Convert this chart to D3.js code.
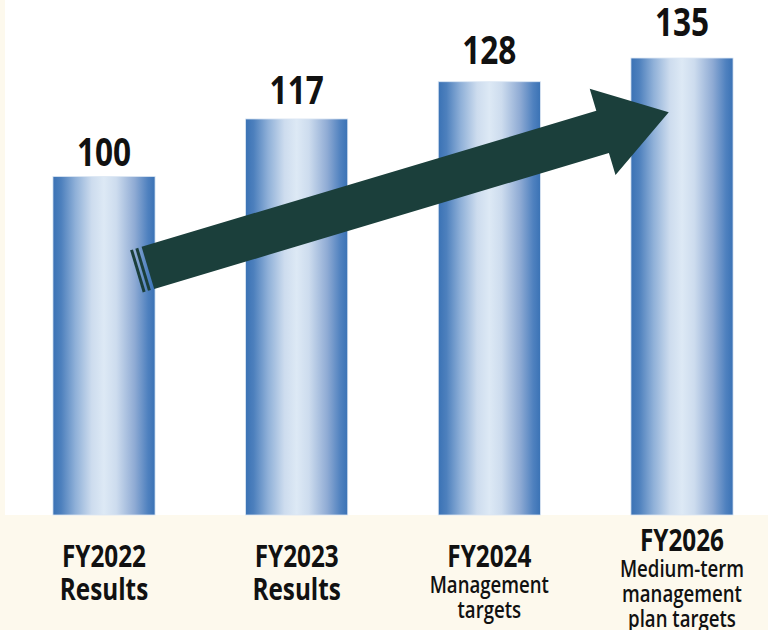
<!DOCTYPE html>
<html>
<head>
<meta charset="utf-8">
<script src="https://cdn.jsdelivr.net/npm/d3@7"></script>
<style>
  html, body { margin: 0; padding: 0; background: #ffffff; }
  svg { display: block; }
</style>
</head>
<body>
<svg id="chart"></svg>
<script>
// Index values (FY2022 = 100)
const categories = ["FY2022", "FY2023", "FY2024", "FY2026"];
const values = [100, 117, 128, 135];
const subLabels = [
    ["Results"],
    ["Results"],
    ["Management", "targets"],
    ["Medium-term", "management", "plan targets"]
];
// arrow runs from this level on the first bar to this level on the last bar
const arrowFrom = 73;
const arrowTo = 119;

const width = 768;
const height = 630;
const baseY = 515;
const FONT = "'Open Sans', sans-serif";
const SQUEEZE = 0.81; // the original type is a condensed face

const svg = d3.select("#chart")
    .attr("width", width)
    .attr("height", height)
    .attr("viewBox", [0, 0, width, height]);

// cream panel at the bottom and thin strip on the left
svg.append("rect")
    .attr("x", 0).attr("y", 0)
    .attr("width", width).attr("height", height)
    .attr("fill", "#ffffff");
svg.append("rect")
    .attr("x", 0).attr("y", baseY)
    .attr("width", width).attr("height", height - baseY)
    .attr("fill", "#fdf9ed");
svg.append("rect")
    .attr("x", 0).attr("y", 0)
    .attr("width", 5).attr("height", height)
    .attr("fill", "#fdf9ed");

// Scales
const x = d3.scaleBand()
    .domain(categories)
    .range([-1, 787])
    .paddingInner(0.47)
    .paddingOuter(0.28);

const y = d3.scaleLinear()
    .domain([0, 150])
    .range([baseY, baseY - 150 * 3.385]);

// Bar gradient (cylinder look)
const defs = svg.append("defs");
const grad = defs.append("linearGradient")
    .attr("id", "bar-grad")
    .attr("x1", "0%").attr("x2", "100%")
    .attr("y1", "0%").attr("y2", "0%");
[
    [0, "#3a72b5"], [0.08, "#4d80bd"], [0.22, "#8fb0d8"],
    [0.38, "#cddcee"], [0.5, "#dde9f5"], [0.62, "#cddcee"],
    [0.8, "#8fabd4"], [0.93, "#4f81bf"], [1, "#3a72b5"]
].forEach(([o, c]) => grad.append("stop").attr("offset", o).attr("stop-color", c));

// Bars
svg.append("g")
    .selectAll("rect")
    .data(values)
    .join("rect")
    .attr("x", (d, i) => x(categories[i]))
    .attr("y", d => y(d))
    .attr("width", x.bandwidth())
    .attr("height", d => y(0) - y(d))
    .attr("fill", "url(#bar-grad)")
    .attr("stroke", "#dbe6f3")
    .attr("stroke-width", 0.8);

// condensed text helper: centred at (cx, by) baseline
function squeezedText(g, cx, by, size, str, weight = "bold") {
    return g.append("text")
        .attr("transform", `translate(${cx},${by}) scale(${SQUEEZE},1)`)
        .attr("text-anchor", "middle")
        .attr("font-family", FONT)
        .attr("font-weight", weight)
        .attr("font-size", size)
        .attr("fill", "#111111")
        .text(str);
}

// Value labels
const valueG = svg.append("g");
values.forEach((v, i) => {
    squeezedText(valueG, x(categories[i]) + x.bandwidth() / 2, y(v) - 11 - 3.6 * i, 39, v);
});

// Arrow, placed from scale positions
const first = categories[0], last = categories[categories.length - 1];
const p0 = [x(first) + x.bandwidth() * 0.93, y(arrowFrom)];
const p1 = [x(last) + x.bandwidth() * 0.37, y(arrowTo)];
const len = Math.hypot(p1[0] - p0[0], p1[1] - p0[1]);
const ang = Math.atan2(p1[1] - p0[1], p1[0] - p0[0]) * 180 / Math.PI;
const shaftHalf = 22, headHalf = 45, headLen = 69;
const arrowColor = "#1b3f3b";

const arrow = svg.append("g")
    .attr("transform", `translate(${p0[0]},${p0[1]}) rotate(${ang})`);
arrow.append("path")
    .attr("d", d3.line()([
        [0, -shaftHalf], [len - headLen, -shaftHalf], [len - headLen, -headHalf],
        [len, 0], [len - headLen, headHalf], [len - headLen, shaftHalf], [0, shaftHalf]
    ]) + "Z")
    .attr("fill", arrowColor);
// the two thin stripes at the tail
[[-12, -9], [-6.5, -3.5]].forEach(([a, b]) => {
    arrow.append("rect")
        .attr("x", a).attr("y", -shaftHalf)
        .attr("width", b - a).attr("height", shaftHalf * 2)
        .attr("fill", arrowColor);
});

// Category labels
const labelG = svg.append("g");
categories.forEach((c, i) => {
    const cx = x(c) + x.bandwidth() / 2;
    const subs = subLabels[i];
    const big = subs.length === 1;
    const topY = subs.length === 3 ? 551 : 567;
    squeezedText(labelG, cx, topY, 30, c);
    subs.forEach((s, j) => {
        if (big) squeezedText(labelG, cx, topY + 33, 30, s);
        else squeezedText(labelG, cx, topY + 26 + j * 25, 23, s, 600);
    });
});
</script>
</body>
</html>
